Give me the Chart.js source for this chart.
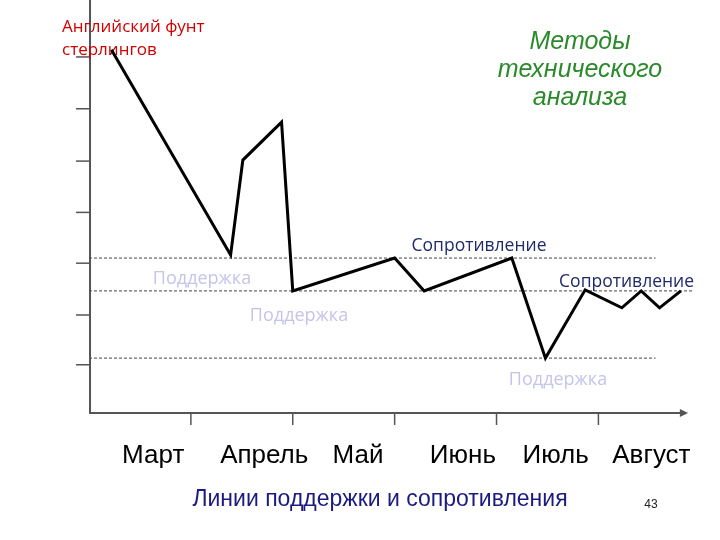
<html>
<head>
<script src="https://cdn.jsdelivr.net/npm/chart.js"></script>
<style>body{margin:0;background:#fff}</style>
</head>
<body>
<canvas id="c" width="720" height="540"></canvas>
<script>
// x in months (1 unit = one month tick), y in arbitrary price units
var priceX = [0.22, 1.39, 1.51, 1.89, 2.0, 3.0, 3.29, 4.15, 4.48, 4.87, 5.23, 5.42, 5.6, 5.81];
var priceY = [7.08, 3.08, 4.93, 5.67, 2.38, 3.02, 2.38, 3.02, 1.07, 2.40, 2.05, 2.38, 2.05, 2.38];
var months = ["Март", "Апрель", "Май", "Июнь", "Июль", "Август"];
var monthX = [0.63, 1.72, 2.64, 3.67, 4.58, 5.52];
var levels = [
  {y: 3.02, x1: 0, x2: 5.56},
  {y: 2.38, x1: 0, x2: 5.93},
  {y: 1.07, x1: 0, x2: 5.56}
];
var yTicks = [0.94, 1.91, 2.92, 3.91, 4.91, 5.93, 6.94];
var xTicks = [1, 2, 3, 4, 5];

var pts = priceX.map(function (x, i) { return {x: x, y: priceY[i]}; });

var decor = {
  id: 'decor',
  beforeDatasetsDraw: function (chart) {
    var c = chart.ctx, xs = chart.scales.x, ys = chart.scales.y;
    var X = function (v) { return xs.getPixelForValue(v); };
    var Y = function (v) { return ys.getPixelForValue(v); };
    c.save();
    // dashed levels
    c.strokeStyle = '#444'; c.lineWidth = 1; c.setLineDash([3, 2]);
    levels.forEach(function (l) {
      c.beginPath(); c.moveTo(X(l.x1), Y(l.y)); c.lineTo(X(l.x2), Y(l.y)); c.stroke();
    });
    c.setLineDash([]);
    // axes
    var x0 = X(0.01), y0 = Y(0);
    c.strokeStyle = '#555'; c.lineWidth = 2;
    c.beginPath(); c.moveTo(x0, Y(8.05)); c.lineTo(x0, y0); c.lineTo(X(5.85), y0); c.stroke();
    c.fillStyle = '#555';
    c.beginPath(); c.moveTo(X(5.88), y0); c.lineTo(X(5.80), y0 - 4); c.lineTo(X(5.80), y0 + 4); c.fill();
    c.lineWidth = 1.5;
    yTicks.forEach(function (t) {
      c.beginPath(); c.moveTo(x0 - 14, Y(t)); c.lineTo(x0, Y(t)); c.stroke();
    });
    xTicks.forEach(function (t) {
      c.beginPath(); c.moveTo(X(t), y0); c.lineTo(X(t), y0 + 12); c.stroke();
    });
    // texts
    c.textAlign = 'center'; c.textBaseline = 'middle';
    c.fillStyle = '#000'; c.font = '26px "Liberation Sans", Arial';
    months.forEach(function (m, i) { c.fillText(m, X(monthX[i]), 456); });
    c.textAlign = 'left'; c.fillStyle = '#d00000'; c.font = '17px "Open Sans", sans-serif';
    c.fillText('Английский фунт', 62, 27); c.fillText('стерлингов', 62, 50);
    c.textAlign = 'center'; c.fillStyle = '#2a8a2a'; c.font = 'italic 25px "Liberation Sans", Arial';
    c.fillText('Методы', 580, 42); c.fillText('технического', 580, 70); c.fillText('анализа', 580, 98);
    c.font = '17.5px "Open Sans", sans-serif'; c.fillStyle = '#1e2a6a';
    c.fillText('Сопротивление', 479, 246);
    c.textAlign = 'right'; c.fillText('Сопротивление', 694, 282);
    c.textAlign = 'center'; c.fillStyle = '#c4c4ec'; c.font = '18px "Open Sans", sans-serif';
    c.fillText('Поддержка', 202, 279); c.fillText('Поддержка', 299, 316); c.fillText('Поддержка', 558, 380);
    c.fillStyle = '#1a1a80'; c.font = '23px "Liberation Sans", Arial';
    c.fillText('Линии поддержки и сопротивления', 380, 500);
    c.fillStyle = '#222'; c.font = '12px "Liberation Sans", Arial';
    c.fillText('43', 651, 505);
    c.restore();
  }
};

new Chart(document.getElementById('c').getContext('2d'), {
  type: 'scatter',
  data: {datasets: [{data: pts, showLine: true, borderColor: '#000', borderWidth: 3,
    pointRadius: 0, tension: 0, fill: false}]},
  options: {
    responsive: false, animation: false, devicePixelRatio: 1,
    layout: {padding: {left: 89, right: 35, top: 0, bottom: 127}},
    plugins: {legend: {display: false}, tooltip: {enabled: false}},
    scales: {
      x: {type: 'linear', min: 0, max: 5.85, display: false},
      y: {type: 'linear', min: 0, max: 8.05, display: false}
    }
  },
  plugins: [decor]
});
</script>
</body>
</html>
